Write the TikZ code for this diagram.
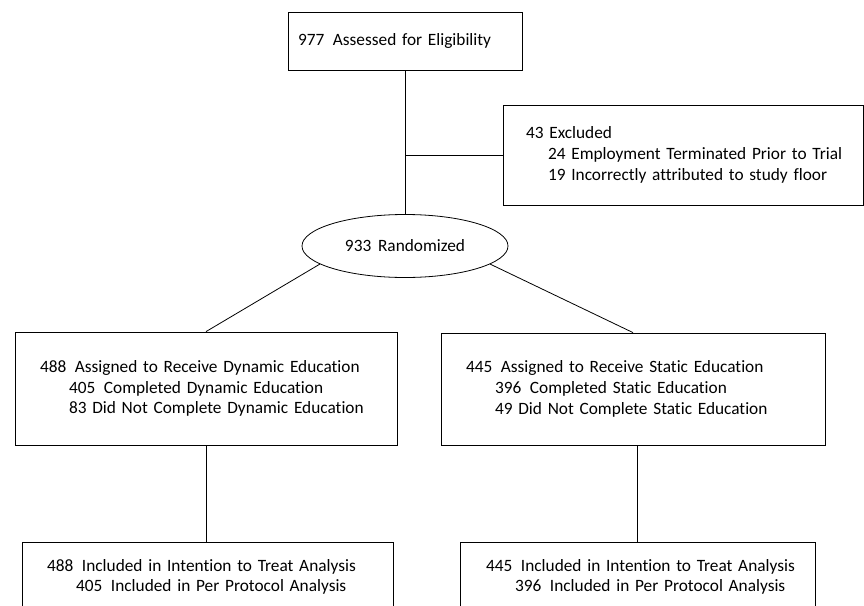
\documentclass[tikz,border=0pt]{standalone}
\usepackage{fontspec}
\setmainfont{Carlito}[Ligatures={NoCommon}]
\usetikzlibrary{shapes.geometric}
\begin{document}
\begin{tikzpicture}[x=1pt, y=-1pt, line width=0.8pt,
    every node/.style={font=\fontsize{17.3}{20.7}\selectfont},
    flowbox/.style={draw, rectangle, align=left, inner ysep=0pt}]
    \useasboundingbox (0,0) rectangle (864,605);
    \clip (0,0) rectangle (864,605);
    \node [flowbox, text width=214pt, inner xsep=10pt, minimum height=58pt] (elig) at (405,41) {977\, Assessed for Eligibility};
    \node [flowbox, text width=314pt, inner xsep=23pt, minimum height=100pt] (excl) at (683,155)
      {\mbox{43 Excluded}\\ \mbox{\hspace*{22pt}24 Employment Terminated Prior to Trial}\\ \mbox{\hspace*{22pt}19 Incorrectly attributed to study floor}};
    \node [draw, ellipse, minimum width=206pt, minimum height=63pt, inner sep=0pt] (rand) at (405,246) {933\, Randomized};
    \node [flowbox, text width=332pt, inner xsep=25pt, minimum height=113pt] (dyn) at (206,388.5)
      {\mbox{488\, Assigned to Receive Dynamic Education}\\ \mbox{\hspace*{29pt}405\, Completed Dynamic Education}\\ \mbox{\hspace*{29pt}83 Did Not Complete Dynamic Education}};
    \node [flowbox, text width=334pt, inner xsep=25pt, minimum height=112pt] (stat) at (633,389)
      {\mbox{445\, Assigned to Receive Static Education}\\ \mbox{\hspace*{29pt}396\, Completed Static Education}\\ \mbox{\hspace*{29pt}49 Did Not Complete Static Education}};
    \node [flowbox, text width=321pt, inner xsep=25pt, minimum height=70pt] (itt1) at (207.5,577)
      {\mbox{488\, Included in Intention to Treat Analysis}\\ \mbox{\hspace*{29pt}405\, Included in Per Protocol Analysis}};
    \node [flowbox, text width=303pt, inner xsep=26pt, minimum height=70pt] (itt2) at (637.5,577)
      {\mbox{445\, Included in Intention to Treat Analysis}\\ \mbox{\hspace*{29pt}396\, Included in Per Protocol Analysis}};
    \coordinate (split) at (405,155);
    \draw (elig) -- (rand);
    \draw (split) -- (excl);
    \draw (rand.192) -- (dyn.north);
    \draw (rand.348) -- (stat.north);
    \draw (dyn.south) -- (dyn.south |- itt1.north);
    \draw (stat.south -| itt2.north) -- (itt2.north);
  \end{tikzpicture}
\end{document}
